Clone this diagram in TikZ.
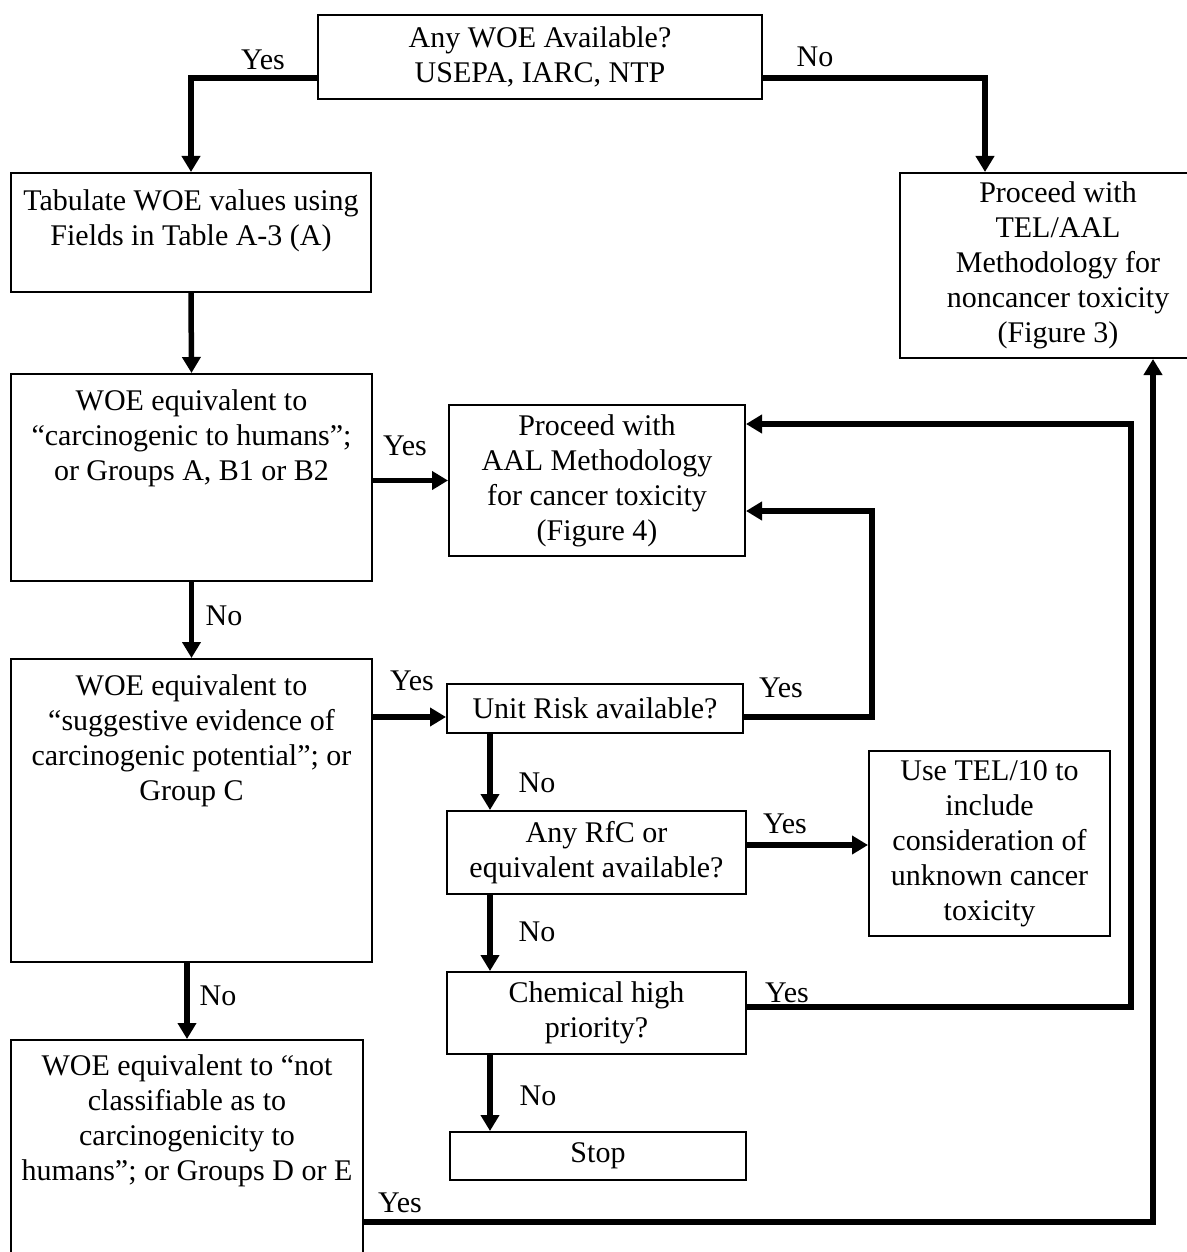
\documentclass[tikz,border=0pt]{standalone}
\usepackage{fontspec}
\setmainfont{Liberation Serif}
\usetikzlibrary{arrows.meta,positioning}
\begin{document}
\begin{tikzpicture}[x=1pt,y=-1pt,
  box/.style={draw,line width=2pt,anchor=north west,inner sep=0pt,align=center,font=\fontsize{30}{35}\selectfont},
  ctext/.style={align=center,font=\fontsize{30}{35}\selectfont,inner sep=0pt},
  lbl/.style={font=\fontsize{30}{35}\selectfont,inner sep=0pt},
  arr/.style={line width=5.5pt,-{Triangle[length=16pt,width=18pt]}}]
\fill[white] (0,0) rectangle (1186,1252);
\useasboundingbox (0,0) rectangle (1186,1252);

% boxes
\node[box,minimum width=444pt,minimum height=84pt] (top) at (317,14) {Any WOE Available?\\USEPA, IARC, NTP};
\node[box,minimum width=360pt,minimum height=119pt] (tab) at (10,172) {};
\node[box,minimum width=316pt,minimum height=185pt] (telaal) at (899,172) {Proceed with\\TEL/AAL\\Methodology for\\noncancer toxicity\\(Figure 3)};
\node[box,minimum width=361pt,minimum height=207pt] (woe1) at (10,373) {};
\node[box,minimum width=296pt,minimum height=151pt] (aal) at (448,404) {Proceed with\\AAL Methodology\\for cancer toxicity\\(Figure 4)};
\node[box,minimum width=361pt,minimum height=303pt] (woe2) at (10,658) {};
\node[box,minimum width=296pt,minimum height=49pt] (unit) at (446,683) {Unit Risk available?};
\node[box,minimum width=299pt,minimum height=83pt] (rfc) at (446,810) {Any RfC or\\equivalent available?};
\node[box,minimum width=241pt,minimum height=185pt] (tel10) at (868,750) {Use TEL/10 to\\include\\consideration of\\unknown cancer\\toxicity};
\node[box,minimum width=299pt,minimum height=82pt] (chem) at (446,971) {Chemical high\\priority?};
\node[box,minimum width=296pt,minimum height=48pt] (stop) at (449,1131) {Stop};
\node[box,minimum width=352pt,minimum height=250pt] (woe3) at (10,1039) {};

% top-aligned texts
\node[ctext,anchor=north] (tabT) at ([yshift=-17pt]tab.north) {Tabulate WOE values using\\Fields in Table A-3 (A)};
\node[ctext,anchor=north] (woe1T) at ([yshift=-16pt]woe1.north) {WOE equivalent to\\“carcinogenic to humans”;\\or Groups A, B1 or B2};
\node[ctext,anchor=north] (woe2T) at ([yshift=-16pt]woe2.north) {WOE equivalent to\\“suggestive evidence of\\carcinogenic potential”; or\\Group C};
\node[ctext,anchor=north] (woe3T) at ([yshift=-15pt]woe3.north) {WOE equivalent to “not\\classifiable as to\\carcinogenicity to\\humans”; or Groups D or E};

% helper coordinates
\coordinate (ty) at (0,78);
\coordinate (xN) at (985,0);
\coordinate (uy) at (0,717);
\coordinate (ay2) at (0,511);
\coordinate (xU) at (872,0);
\coordinate (xc) at (490,0);
\coordinate (ry) at (0,845);
\coordinate (cy) at (0,1007);
\coordinate (xR) at (1131,0);
\coordinate (ay1) at (0,424);
\coordinate (wy) at (0,1222);
\coordinate (xRR) at (1153,0);

% connectors
\draw[arr] (top.west |- ty) -| (tab.north);
\draw[arr] (top.east |- ty) -| (xN |- telaal.north);
\draw[arr] (tab.south) -- (woe1.north);
\draw[arr] (woe1.east |- aal.west) -- (aal.west);
\draw[arr] (woe1.south) -- (woe2.north);
\draw[arr] (woe2.east |- uy) -- (unit.west |- uy);
\draw[arr] (unit.east |- uy) -| (xU |- ay2) -- (aal.east |- ay2);
\draw[arr] (xc |- unit.south) -- (xc |- rfc.north);
\draw[arr] (rfc.east |- ry) -- (tel10.west |- ry);
\draw[arr] (xc |- rfc.south) -- (xc |- chem.north);
\draw[arr] (chem.east |- cy) -| (xR |- ay1) -- (aal.east |- ay1);
\draw[arr] (xc |- chem.south) -- (xc |- stop.north);
\draw[arr] (woe3.north |- woe2.south) -- (woe3.north);
\draw[arr] (woe3.east |- wy) -| (xRR |- telaal.south);

% labels
\node[lbl] (l1) at (263,60) {Yes};
\node[lbl] (l2) at (815,57) {No};
\node[lbl] (l3) at (405,446) {Yes};
\node[lbl] (l4) at (224,616) {No};
\node[lbl] (l5) at (412,681) {Yes};
\node[lbl] (l6) at (781,688) {Yes};
\node[lbl] (l7) at (537,783) {No};
\node[lbl] (l8) at (785,824) {Yes};
\node[lbl] (l9) at (537,932) {No};
\node[lbl] (l10) at (787,993) {Yes};
\node[lbl] (l11) at (538,1096) {No};
\node[lbl] (l12) at (218,996) {No};
\node[lbl] (l13) at (400,1203) {Yes};
\end{tikzpicture}
\end{document}
